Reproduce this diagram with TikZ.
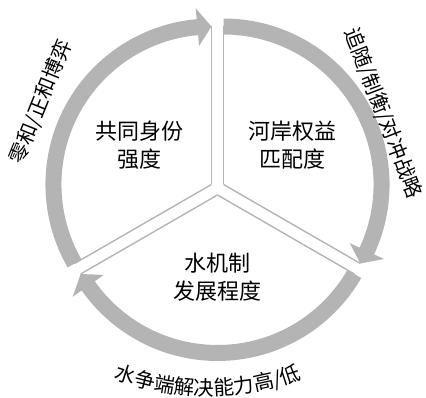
\documentclass[tikz,border=0pt]{standalone}
\usepackage{fontspec}
\newfontfamily\cjk{Noto Sans CJK SC}
\usetikzlibrary{decorations.text}
\definecolor{bandgray}{RGB}{180,180,180}
\begin{document}
\begin{tikzpicture}[x=1pt,y=1pt,
  band/.style={fill=bandgray, draw=none},
  edge/.style={draw=bandgray, line width=1.4pt},
  inner/.style={font=\cjk\fontsize{22}{28}\selectfont, align=center, text=black},
  outer/.style={font=\cjk\fontsize{20.5}{24}\selectfont, text=black, inner sep=0pt}]
\useasboundingbox (0,0) rectangle (426,398);
\coordinate (ul) at (211.44,213.5);
\coordinate (ur) at (223.56,213.5);
\coordinate (bt) at (217.5,203);

% upper-left sector
\begin{scope}[shift={(ul)}]
\draw[edge] (0,0) -- (90:158pt);
\draw[edge] (0,0) -- (210:158pt);
\fill[band] (210:166pt) arc[start angle=210,end angle=95.1,radius=166pt] -- (95.1:177pt) -- (90:158pt) -- (95.1:139pt) -- (95.1:150pt) arc[start angle=95.1,end angle=210,radius=150pt] -- cycle;
\end{scope}

% upper-right sector
\begin{scope}[shift={(ur)}]
\draw[edge] (0,0) -- (90:158pt);
\draw[edge] (0,0) -- (-30:158pt);
\fill[band] (90:166pt) arc[start angle=90,end angle=-24.9,radius=166pt] -- (-24.9:177pt) -- (-30:158pt) -- (-24.9:139pt) -- (-24.9:150pt) arc[start angle=-24.9,end angle=90,radius=150pt] -- cycle;
\end{scope}

% bottom sector
\begin{scope}[shift={(bt)}]
\draw[edge] (0,0) -- (330:158pt);
\draw[edge] (0,0) -- (210:158pt);
\fill[band] (330:166pt) arc[start angle=330,end angle=215.1,radius=166pt] -- (215.1:177pt) -- (210:158pt) -- (215.1:139pt) -- (215.1:150pt) arc[start angle=215.1,end angle=330,radius=150pt] -- cycle;
\end{scope}

\node[inner] (t1) at (139,253) {共同身份\\强度};
\node[inner] (t2) at (292,253) {河岸权益\\匹配度};
\node[inner] (t3) at (217,121) {水机制\\发展程度};

\node[outer, rotate=68] (o1) at (41,296) {零和/正和博弈};
\node[outer, rotate=-69] (o2) at (383,285) {追随/制衡/对冲战略};

\coordinate (bc) at (208,272.4);
\path[decorate, decoration={text along path, text={|\cjk\fontsize{20.5}{24}\selectfont|水争端解决能力高/低}, text align=center}]
  (bc) ++(240:270pt) arc[start angle=240, end angle=300, radius=270pt];
\end{tikzpicture}
\end{document}
